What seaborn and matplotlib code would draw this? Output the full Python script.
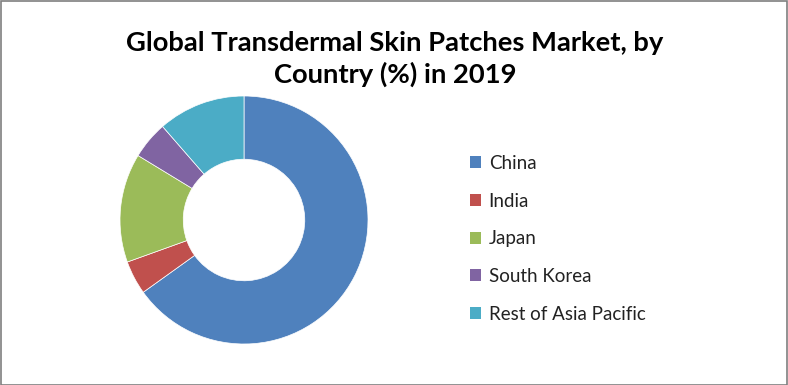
import matplotlib
matplotlib.use("Agg")
import matplotlib.pyplot as plt
from matplotlib.patches import Rectangle, Patch
import seaborn as sns

countries = ["China", "India", "Japan", "South Korea", "Rest of Asia Pacific"]
shares = [65.1, 4.4, 14.2, 4.9, 11.4]
colors = ["#4F81BD", "#C0504D", "#9BBB59", "#8064A2", "#4BACC6"]
title = "Global Transdermal Skin Patches Market, by\nCountry (%) in 2019"

sns.set_theme(style="white")
plt.rcParams["font.family"] = ["Lato", "DejaVu Sans"]

fig = plt.figure(figsize=(7.88, 3.85), dpi=100)
fig.patch.set_facecolor("white")

ax = fig.add_axes([120 / 788, (385 - 344) / 385, 248 / 788, 248 / 385])
wedges, _ = ax.pie(shares, colors=colors, startangle=90, counterclock=False,
                   radius=1.0, wedgeprops=dict(width=0.51, edgecolor="white", linewidth=0.5))
ax.set_xlim(-1, 1)
ax.set_ylim(-1, 1)
ax.set_aspect("equal")
ax.axis("off")

fig.text(395 / 788, 1 - 59 / 385, title, ha="center", va="center",
         fontsize=19.7, fontweight="bold", linespacing=1.36, color="black")

handles = [Patch(facecolor=c, edgecolor="none") for c in colors]
leg = fig.legend(handles, countries, loc="upper left",
                 bbox_to_anchor=(470 / 788, 1 - 155 / 385), frameon=False,
                 borderpad=0, borderaxespad=0,
                 fontsize=13.5, handlelength=0.6, handleheight=0.6,
                 handletextpad=0.4, labelspacing=1.1)
for t in leg.get_texts():
    t.set_color("#222222")

fig.add_artist(Rectangle((0.5 / 788, 0.5 / 385), 786.5 / 788, 383.5 / 385,
                         transform=fig.transFigure, fill=False,
                         edgecolor="#7f7f7f", linewidth=1.2))

fig.savefig("out.png", dpi=100)
